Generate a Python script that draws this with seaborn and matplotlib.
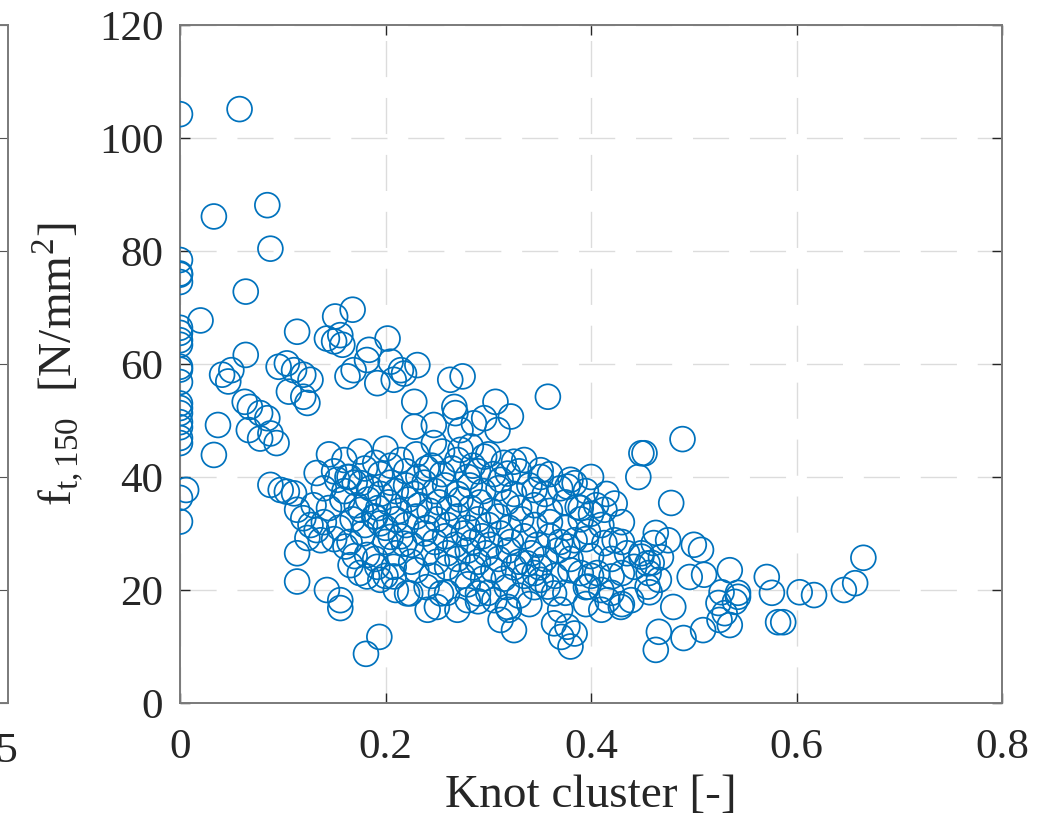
import numpy as np
import pandas as pd
import matplotlib
matplotlib.use("Agg")
import matplotlib.pyplot as plt
import seaborn as sns

# knot cluster [-] and f_t,150 [N/mm2]
knot_zero = [0, 0, 0, 0, 0, 0, 0, 0, 0, 0, 0, 0, 0, 0, 0, 0, 0, 0, 0, 0.006, 0, 0]
ft_zero = [104.2, 78.4, 76.0, 75.8, 74.5, 66.4, 65.5, 64.2, 63.4, 59.5, 59.0, 56.8,
           53.0, 52.2, 51.3, 49.7, 48.8, 46.9, 46.0, 37.7, 36.3, 32.1]

knot_sparse = [0.058, 0.033, 0.085, 0.088, 0.064, 0.020, 0.114, 0.168, 0.151, 0.143, 0.150,
               0.156, 0.158, 0.202, 0.184, 0.064, 0.041, 0.050, 0.047, 0.096, 0.104, 0.111,
               0.120, 0.127, 0.106, 0.120, 0.124, 0.163, 0.169, 0.182, 0.205, 0.215, 0.208,
               0.192, 0.063, 0.068, 0.037, 0.033, 0.078, 0.085, 0.067, 0.078, 0.088, 0.094,
               0.231, 0.263, 0.275, 0.358, 0.228, 0.218, 0.307, 0.322, 0.309, 0.267, 0.268,
               0.247, 0.228, 0.286, 0.296, 0.273, 0.283, 0.247, 0.273, 0.449, 0.325, 0.296,
               0.351, 0.446, 0.384, 0.377, 0.351, 0.345, 0.319, 0.312, 0.423, 0.413, 0.400,
               0.387, 0.423, 0.413, 0.397, 0.384, 0.377, 0.449, 0.455, 0.442, 0.455, 0.420,
               0.410, 0.416, 0.429, 0.439, 0.397, 0.390, 0.406, 0.364, 0.377, 0.371, 0.384,
               0.380, 0.325, 0.312, 0.306, 0.319, 0.241, 0.224, 0.254, 0.280, 0.290, 0.358,
               0.364, 0.351, 0.345, 0.338, 0.489, 0.452, 0.478, 0.463, 0.475, 0.461, 0.449,
               0.459, 0.466, 0.456, 0.468, 0.457, 0.500, 0.507, 0.496, 0.510, 0.535, 0.480,
               0.527, 0.543, 0.540, 0.524, 0.530, 0.535, 0.525, 0.543, 0.509, 0.490, 0.466,
               0.463, 0.571, 0.576, 0.582, 0.587, 0.603, 0.617, 0.646, 0.657, 0.665, 0.088,
               0.098, 0.104, 0.111, 0.114, 0.120, 0.127, 0.133, 0.124, 0.137, 0.114, 0.114,
               0.143, 0.156, 0.156, 0.194, 0.181, 0.161, 0.166, 0.182, 0.195, 0.208, 0.133,
               0.153, 0.163, 0.176, 0.176, 0.189, 0.195, 0.205, 0.218, 0.182, 0.192, 0.208,
               0.221]
ft_sparse = [105.1, 86.1, 88.1, 80.4, 72.8, 67.7, 65.7, 69.6, 68.4, 64.5, 64.0,
             65.1, 63.4, 64.5, 62.5, 61.6, 58.1, 58.9, 56.9, 59.5, 60.1, 58.9,
             58.1, 57.2, 55.1, 54.2, 53.1, 57.8, 58.9, 60.7, 60.4, 58.9, 57.2,
             56.6, 53.3, 52.4, 49.2, 43.9, 51.3, 50.4, 48.3, 46.8, 47.7, 46.0,
             59.8, 57.2, 57.8, 54.2, 53.3, 58.3, 53.3, 50.7, 48.3, 52.4, 51.3,
             49.2, 48.9, 49.5, 50.4, 48.3, 45.4, 46.0, 44.8, 44.2, 42.7, 43.6,
             41.2, 40.0, 38.9, 38.3, 40.0, 37.7, 40.6, 39.5, 35.3, 34.2, 33.5,
             34.7, 28.8, 28.3, 30.3, 28.8, 27.7, 25.9, 24.7, 24.1, 20.6, 22.4,
             20.0, 18.2, 17.0, 18.2, 20.6, 23.0, 23.0, 14.1, 13.5, 11.7, 12.3,
             10.0, 12.9, 14.7, 18.2, 17.0, 16.5, 19.4, 19.4, 18.2, 19.4, 20.6,
             19.4, 21.8, 23.0, 24.7, 46.7, 44.2, 35.4, 30.1, 28.8, 28.3, 26.5,
             24.8, 21.8, 23.0, 25.8, 19.6, 28.0, 27.1, 22.3, 22.7, 23.5, 17.0,
             19.6, 18.8, 17.9, 17.7, 15.9, 13.8, 14.7, 19.5, 12.9, 11.5, 12.6,
             9.4, 22.3, 19.5, 14.3, 14.3, 19.6, 19.1, 20.0, 21.2, 25.7, 38.6,
             37.7, 37.4, 37.1, 34.2, 32.7, 31.5, 30.6, 29.2, 28.8, 26.5, 21.5,
             20.0, 18.2, 16.8, 11.7, 8.7, 27.7, 24.4, 22.4, 21.8, 22.4, 40.7,
             39.5, 40.0, 38.9, 34.2, 33.0, 31.8, 29.4, 28.2, 26.2, 24.1, 24.1,
             19.4]

# dense core of the cloud
knot_core = [0.145, 0.160, 0.175, 0.190, 0.200, 0.215, 0.230, 0.245, 0.255, 0.270, 0.285, 0.300, 0.315, 0.335,
             0.150, 0.165, 0.180, 0.195, 0.205, 0.220, 0.232, 0.240, 0.255, 0.265, 0.280, 0.290, 0.305, 0.330, 0.360, 0.380, 0.400,
             0.140, 0.160, 0.170, 0.185, 0.195, 0.205, 0.210, 0.220, 0.228, 0.238, 0.248, 0.258, 0.270, 0.282, 0.295, 0.310, 0.325, 0.340, 0.355, 0.370, 0.395, 0.415,
             0.130, 0.145, 0.158, 0.172, 0.183, 0.193, 0.203, 0.213, 0.222, 0.233, 0.243, 0.252, 0.262, 0.273, 0.283, 0.292, 0.303, 0.318, 0.330, 0.345, 0.360, 0.375, 0.390, 0.405,
             0.140, 0.155, 0.168, 0.180, 0.190, 0.200, 0.210, 0.220, 0.230, 0.240, 0.250, 0.260, 0.270, 0.280, 0.290, 0.300, 0.310, 0.320, 0.332, 0.345, 0.360, 0.375, 0.390, 0.410, 0.430,
             0.150, 0.165, 0.178, 0.200, 0.215, 0.225, 0.238, 0.248, 0.258, 0.268, 0.276, 0.285, 0.294, 0.302, 0.312, 0.322, 0.335, 0.348, 0.360, 0.370, 0.395, 0.430,
             0.170, 0.190, 0.210, 0.225, 0.240, 0.250, 0.260, 0.270, 0.280, 0.290, 0.298, 0.310, 0.320, 0.330, 0.342, 0.355, 0.368, 0.380, 0.400, 0.420, 0.435,
             0.175, 0.200, 0.230, 0.245, 0.260, 0.275, 0.285, 0.295, 0.305, 0.315, 0.325, 0.335, 0.350, 0.365, 0.380, 0.400, 0.430,
             0.210, 0.240, 0.260, 0.280, 0.300, 0.318, 0.330, 0.345, 0.375, 0.395, 0.420,
             0.250, 0.270, 0.290, 0.320, 0.340, 0.370, 0.395, 0.410, 0.430]
ft_core = [44.0, 43.0, 44.5, 42.5, 45.0, 43.0, 44.0, 42.0, 44.5, 43.0, 42.0, 44.0, 42.5, 43.0,
           41.0, 40.0, 41.5, 40.5, 42.0, 41.0, 40.0, 41.5, 40.5, 41.5, 40.0, 41.0, 40.5, 41.0, 40.5, 39.5, 40.0,
           38.0, 37.5, 39.0, 38.0, 37.0, 39.0, 37.5, 38.5, 37.0, 39.0, 37.5, 38.5, 37.0, 38.5, 37.5, 38.0, 37.0, 38.5, 37.0, 38.0, 37.5, 37.0,
           35.0, 34.5, 36.0, 35.0, 36.0, 34.5, 35.5, 34.0, 36.0, 35.0, 34.0, 35.5, 34.5, 36.0, 34.5, 35.5, 34.0, 35.5, 34.5, 35.0, 34.0, 35.5, 34.5, 35.0,
           32.0, 31.0, 32.5, 31.5, 33.0, 31.0, 32.5, 31.5, 33.0, 31.0, 32.5, 31.5, 33.0, 31.0, 32.5, 31.5, 33.0, 31.0, 32.5, 31.5, 32.0, 31.0, 32.5, 31.5, 32.0,
           29.0, 28.5, 30.0, 28.5, 29.5, 28.0, 30.0, 28.5, 29.5, 28.0, 30.0, 28.5, 29.5, 28.0, 30.0, 28.5, 29.5, 28.0, 29.5, 28.5, 29.0, 28.5,
           26.0, 25.5, 26.5, 25.0, 26.5, 25.0, 26.5, 25.5, 27.0, 25.0, 26.5, 25.5, 27.0, 25.0, 26.5, 25.5, 27.0, 25.5, 26.0, 25.5, 26.5,
           23.0, 22.5, 23.5, 22.5, 24.0, 22.5, 24.0, 22.0, 23.5, 22.0, 24.0, 22.5, 24.0, 22.5, 23.5, 22.5, 23.0,
           20.0, 20.5, 19.5, 21.0, 19.5, 20.5, 19.0, 20.5, 19.5, 20.5, 19.5,
           17.0, 16.5, 18.0, 16.5, 17.5, 16.5, 17.5, 16.5, 17.5]

df = pd.DataFrame({
    "knot": knot_zero + knot_sparse + knot_core,
    "ft": ft_zero + ft_sparse + ft_core,
})

blue = "#0072BD"
plt.rcParams["font.family"] = ["Liberation Serif", "DejaVu Serif"]
plt.rcParams["mathtext.fontset"] = "stix"

fig = plt.figure(figsize=(10.5, 8.3), dpi=100)

# neighbouring panel, cut off at the left edge
ax0 = fig.add_axes([-0.6, 0.153, 0.6076, 0.817])
ax0.set_xlim(0, 1.54)
ax0.set_ylim(0, 120)
ax0.set_xticks([1.5])
ax0.set_xticklabels(["1.5"])
ax0.set_yticks(np.arange(0, 121, 20))
ax0.tick_params(axis="y", right=True, left=False, labelleft=False, direction="in", length=7, color="#555555")
ax0.tick_params(axis="x", bottom=False, labelsize=31, pad=18, colors="#262626")
for s in ax0.spines.values():
    s.set_color("#7a7a7a")
    s.set_linewidth(1.4)

ax = fig.add_axes([0.1714, 0.153, 0.783, 0.817])
sns.scatterplot(data=df, x="knot", y="ft", ax=ax, s=320, marker="o",
                facecolors="none", edgecolor=blue, linewidth=1.25, zorder=3)

ax.set_xlim(0, 0.8)
ax.set_ylim(0, 120)
ax.set_xticks([0, 0.2, 0.4, 0.6, 0.8])
ax.set_xticklabels(["0", "0.2", "0.4", "0.6", "0.8"])
ax.set_yticks(np.arange(0, 121, 20))
ax.grid(True, color="#dcdcdc", linestyle=(0, (26, 15)), linewidth=1.0, zorder=0)
ax.set_axisbelow(True)
ax.tick_params(direction="in", length=7, width=1.0, top=True, right=True,
               labelsize=31, colors="#262626")
ax.tick_params(axis="x", pad=18)
ax.tick_params(axis="y", pad=12)
for s in ax.spines.values():
    s.set_color("#7a7a7a")
    s.set_linewidth(1.4)

ax.set_xlabel("Knot cluster [-]", fontsize=34, color="#262626", labelpad=6)
ax.set_ylabel(r"f$_{\mathregular{t,150}}$  [N/mm$^{\mathregular{2}}$]", fontsize=34,
              color="#262626", labelpad=10)

fig.savefig("out.png", dpi=100)
